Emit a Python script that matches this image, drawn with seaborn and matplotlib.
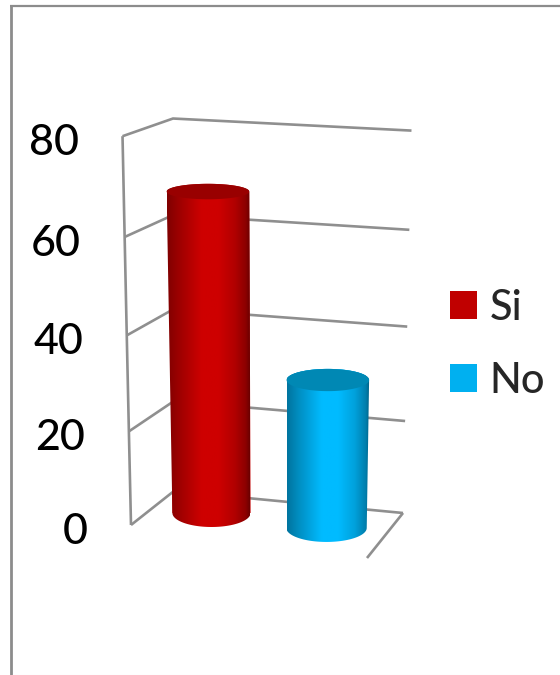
import numpy as np
import pandas as pd
import matplotlib
matplotlib.use("Agg")
import matplotlib.pyplot as plt
import seaborn as sns
from matplotlib.colors import to_rgb
from matplotlib.patches import PathPatch
from matplotlib.path import Path

# Chart data
categories = ["Si", "No"]
values = [68, 32]
value_ticks = [0, 20, 40, 60, 80]

# Colours
bar_colors = ["#C00000", "#00B0F0"]
lit_colors = ["#CE0000", "#00BBFF"]
cap_colors = ["#990000", "#0088B4"]
wall_color = "#8F8F8F"

W, H = 560, 675
FONT = "Lato"

sns.set_theme(style="white")
plt.rcParams["font.family"] = [FONT, "DejaVu Sans"]
plt.rcParams["font.weight"] = "medium"

fig = plt.figure(figsize=(W / 100, H / 100), dpi=100, facecolor="white")


def canvas_axes(z):
    """Full-figure axes measured in pixels from the top-left corner."""
    a = fig.add_axes([0, 0, 1, 1], zorder=z)
    a.set_xlim(0, W)
    a.set_ylim(H, 0)
    a.set_axis_off()
    return a


wall_ax = canvas_axes(0)
ax = fig.add_axes([0, 0, 1, 1], zorder=1)
cyl_ax = canvas_axes(2)


def rise(v, a=4.53, b=0.0029):
    """Height in pixels of value v; foreshortening makes the scale grow upward."""
    v = np.asarray(v, float)
    return a * v + b * v * v


def rise_inverse(h, a=4.53, b=0.0029):
    h = np.asarray(h, float)
    return (-a + np.sqrt(np.maximum(a * a + 4 * b * h, 0))) / (2 * b)


# Value axis follows the foreshortened scale; categories are evenly spaced
ax.set_yscale("function", functions=(rise, rise_inverse))
table = pd.DataFrame({"answer": categories, "share": values})
sns.barplot(data=table, x="answer", y="share", hue="answer", hue_order=categories,
            palette=bar_colors, width=0.68, saturation=1, legend=True, ax=ax,
            linewidth=0)

BASE_Y = 513      # floor height beneath the first cylinder
CAT_STEP = 115
CAT_X0 = 211.5
ax.set_xlim(-CAT_X0 / CAT_STEP, (W - CAT_X0) / CAT_STEP)
ax.set_ylim(rise_inverse(-(H - BASE_Y)), rise_inverse(BASE_Y))

# Wireframe walls and floor
ticks = np.array(value_ticks, float)
front_x = 131 - 0.106 * ticks
front_y = 525 - rise(ticks, 4.62, 0.003)
back_x = 174 - 0.0125 * ticks
back_y = 491 - rise(ticks, 4.436, 0.00275)
right_x = 403 + 0.106 * ticks
right_y = 513 - rise(ticks, 4.54, 0.003)

line_style = dict(color=wall_color, lw=1.9, solid_joinstyle="miter",
                  solid_capstyle="butt")
wall_ax.plot(front_x, front_y, **line_style)
for i in range(len(ticks)):
    wall_ax.plot([front_x[i], back_x[i], right_x[i]],
                 [front_y[i], back_y[i], right_y[i]], **line_style)
wall_ax.plot([right_x[0], 367], [right_y[0], 558], **line_style)

# Value labels beside the left wall
for t, fx, fy in zip(value_ticks, front_x, front_y):
    wall_ax.text(float(fx - 43.5), float(fy + 3), str(t), ha="right",
                 va="center_baseline", fontsize=31, color="black")

# Cylinders are built on top of the bars, sharing their height and width
fig.canvas.draw()
shade_pos = [0.0, 0.12, 0.42, 0.62, 0.82, 0.95, 1.0]
shade_val = [0.62, 0.74, 1.0, 1.0, 0.86, 0.68, 0.52]
bars = sorted((p for p in ax.patches if np.isfinite(p.get_height()) and p.get_height() > 0),
              key=lambda p: p.get_x())
t_angle = np.linspace(0, np.pi, 60)
for i, bar in enumerate(bars):
    centre = ax.transData.transform((bar.get_x() + bar.get_width() / 2, 1))[0]
    span = abs(ax.transData.transform((bar.get_width(), 1))[0]
               - ax.transData.transform((0, 1))[0])
    span *= 1 + (centre - CAT_X0) * 0.00025
    base_y = BASE_Y + (centre - CAT_X0) * 0.13
    top_h = float(rise(bar.get_height()))
    top_y = base_y - top_h

    flare = 1 + 0.000175 * top_h
    top_centre = 275 + (centre - 275) * flare
    top_half = span * flare / 2
    base_half = span / 2
    base_tilt = 14
    top_tilt = 14 - 0.0195 * top_h

    # silhouette: left side, lower rim, right side, upper rim
    lower_x = centre - base_half * np.cos(t_angle)
    lower_y = base_y + base_tilt * np.sin(t_angle)
    upper_x = top_centre + top_half * np.cos(t_angle)
    upper_y = top_y - top_tilt * np.sin(t_angle)
    outline = Path(np.c_[np.r_[lower_x, upper_x], np.r_[lower_y, upper_y]])
    clip = PathPatch(outline, transform=cyl_ax.transData, fc="none", ec="none")
    cyl_ax.add_patch(clip)
    bar.set_clip_path(clip)

    # side shading across the cylinder
    lit = np.array(to_rgb(lit_colors[i]))
    shade = np.interp(np.linspace(0, 1, 200), shade_pos, shade_val)
    strip = (shade[None, :, None] * lit[None, None, :]).clip(0, 1)
    left = top_centre - top_half
    right = top_centre + top_half
    image = cyl_ax.imshow(strip, extent=(left, right, base_y + base_tilt, top_y - top_tilt),
                          aspect="auto", origin="upper", interpolation="bilinear")
    image.set_clip_path(clip)

    # top cap
    angle = np.linspace(0, 2 * np.pi, 120)
    cyl_ax.fill(top_centre + top_half * np.cos(angle),
                top_y + top_tilt * np.sin(angle), color=cap_colors[i], lw=0)

# imshow resets the limits of the canvas
cyl_ax.set_xlim(0, W)
cyl_ax.set_ylim(H, 0)

# Legend
ax.legend(loc="upper left", bbox_to_anchor=(450 / W, 1 - 289 / H),
          bbox_transform=fig.transFigure, frameon=False, fontsize=30,
          handlelength=0.65, handleheight=0.65, handletextpad=0.3,
          labelspacing=0.84, borderpad=0, borderaxespad=0)
ax.set_axis_off()

# Outer frame of the chart area
wall_ax.plot([10.7, 10.7], [5, 678], color="#8C8C8C", lw=2.0, solid_capstyle="butt")
wall_ax.plot([10, 562], [6, 6], color="#8C8C8C", lw=1.6, solid_capstyle="butt")
wall_ax.plot([12, 562], [674.5, 674.5], color="#F0F0F0", lw=0.8)

fig.savefig("out.png", dpi=100, facecolor="white")
